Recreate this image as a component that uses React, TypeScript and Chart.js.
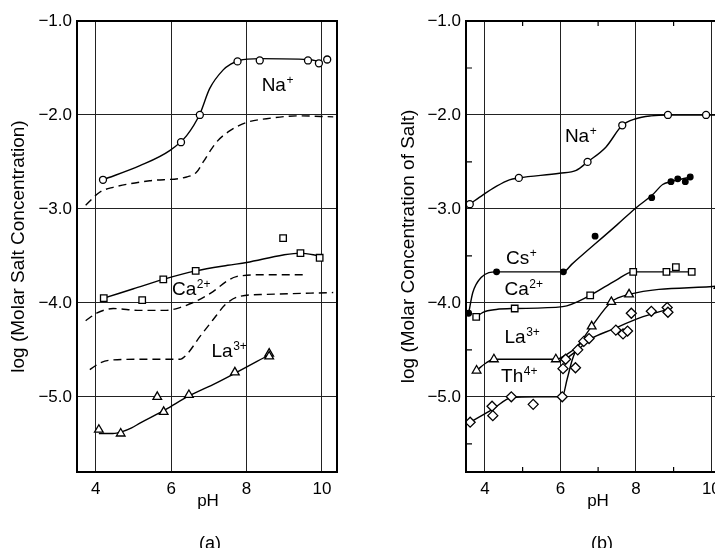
import React, { useEffect, useRef } from "react";
import { Chart, registerables } from "chart.js";

Chart.register(...registerables);

const FONT = '"Liberation Sans", Arial, Helvetica, sans-serif';

// ---------- axes ----------
const phTicks = [4, 6, 8, 10];
const logTicks = [-1, -2, -3, -4, -5];
const phMinorTicks = [5, 7, 9];
const logMinorTicks = [-1.5, -2.5, -3.5, -4.5, -5.5];

// ---------- panel (a): measured points ----------
const aNaPH = [4.19, 6.26, 6.76, 7.76, 8.35, 9.63, 9.92, 10.14];
const aNaLog = [-2.69, -2.29, -2.0, -1.43, -1.42, -1.42, -1.45, -1.41];
const aCaPH = [4.21, 5.23, 5.79, 6.65, 8.97, 9.43, 9.94];
const aCaLog = [-3.95, -3.97, -3.75, -3.66, -3.31, -3.47, -3.52];
const aLaPH = [4.08, 4.66, 5.63, 5.8, 6.47, 7.69, 8.6, 8.6];
const aLaLog = [-5.35, -5.39, -5.0, -5.16, -4.98, -4.74, -4.54, -4.57];

// ---------- panel (a): curves ----------
const aNaCurvePH = [4.19, 5.17, 5.96, 6.41, 6.76, 7.02, 7.38, 7.58, 7.8, 8.35, 9.63, 9.92];
const aNaCurveLog = [-2.69, -2.54, -2.38, -2.22, -1.99, -1.72, -1.52, -1.46, -1.42, -1.4, -1.41, -1.43];
const aNaDashPH = [3.73, 4.11, 4.46, 5.43, 6.41, 6.67, 6.85, 7.2, 7.55, 8.0, 8.53, 9.4, 10.3];
const aNaDashLog = [-2.96, -2.82, -2.77, -2.7, -2.66, -2.61, -2.5, -2.29, -2.17, -2.08, -2.04, -2.01, -2.02];
const aCaCurvePH = [4.21, 5.0, 5.79, 6.65, 7.5, 8.0, 8.97, 9.43, 9.94];
const aCaCurveLog = [-3.95, -3.85, -3.75, -3.66, -3.6, -3.57, -3.49, -3.47, -3.5];
const aCaDashPH = [3.73, 4.02, 4.46, 5.17, 5.87, 6.23, 6.67, 7.11, 7.47, 7.73, 8.5, 9.5];
const aCaDashLog = [-4.19, -4.11, -4.06, -4.08, -4.08, -4.05, -3.98, -3.88, -3.77, -3.72, -3.7, -3.7];
const aLaDashPH = [3.84, 4.11, 4.37, 5.3, 6.23, 6.41, 6.76, 7.11, 7.46, 7.82, 8.53, 10.3];
const aLaDashLog = [-4.71, -4.64, -4.61, -4.6, -4.6, -4.55, -4.36, -4.18, -4.01, -3.93, -3.91, -3.89];
const aLaCurvePH = [4.08, 4.45, 4.7, 4.95, 5.17, 5.87, 6.47, 7.11, 7.69, 8.57];
const aLaCurveLog = [-5.39, -5.39, -5.37, -5.33, -5.28, -5.13, -4.99, -4.87, -4.75, -4.56];

// ---------- panel (b): measured points ----------
const bNaPH = [3.6, 4.9, 6.72, 7.64, 8.85, 9.86];
const bNaLog = [-2.95, -2.67, -2.5, -2.11, -2.0, -2.0];
const bCsPH = [3.57, 4.31, 6.08, 6.92, 8.42, 8.93, 9.11, 9.31, 9.44];
const bCsLog = [-4.11, -3.67, -3.67, -3.29, -2.88, -2.71, -2.68, -2.71, -2.66];
const bCaPH = [3.77, 4.79, 6.79, 7.93, 8.81, 9.06, 9.48];
const bCaLog = [-4.15, -4.06, -3.92, -3.67, -3.67, -3.62, -3.67];
const bLaPH = [3.78, 4.24, 5.88, 6.83, 7.35, 7.82, 10.19];
const bLaLog = [-4.72, -4.6, -4.6, -4.25, -3.99, -3.91, -3.82];
const bThPH = [3.61, 4.19, 4.21, 4.7, 5.28, 6.05, 6.07, 6.14, 6.4, 6.46, 6.62, 6.76, 7.47, 7.66, 7.78, 7.88, 8.41, 8.83, 8.85];
const bThLog = [-5.27, -5.1, -5.2, -5.0, -5.08, -5.0, -4.7, -4.6, -4.69, -4.5, -4.41, -4.38, -4.29, -4.33, -4.3, -4.11, -4.09, -4.05, -4.1];

// ---------- panel (b): curves ----------
const bNaCurvePH = [3.6, 3.95, 4.3, 4.65, 4.9, 5.98, 6.42, 6.72, 7.21, 7.64, 8.0, 8.4, 8.85, 9.86, 10.6];
const bNaCurveLog = [-2.95, -2.85, -2.76, -2.69, -2.67, -2.62, -2.59, -2.5, -2.34, -2.11, -2.04, -2.01, -2.0, -2.0, -2.0];
const bCsCurvePH = [3.57, 3.68, 3.9, 4.31, 6.08, 6.3, 7.5, 8.0, 8.44, 8.71, 8.93, 9.44];
const bCsCurveLog = [-4.11, -3.89, -3.73, -3.67, -3.67, -3.59, -3.17, -2.99, -2.85, -2.74, -2.71, -2.66];
const bCaCurvePH = [3.77, 3.95, 4.3, 4.79, 6.06, 6.79, 7.47, 7.93, 8.81, 9.48];
const bCaCurveLog = [-4.15, -4.1, -4.07, -4.06, -4.04, -3.92, -3.76, -3.67, -3.67, -3.67];
const bLaCurvePH = [3.78, 4.03, 4.24, 5.88, 6.16, 6.43, 6.83, 7.35, 7.82, 10.19];
const bLaCurveLog = [-4.72, -4.64, -4.6, -4.6, -4.55, -4.47, -4.25, -3.99, -3.91, -3.82];
const bThCurve1PH = [3.61, 4.21, 4.7, 5.36, 6.05, 6.18, 6.32, 6.47, 6.62];
const bThCurve1Log = [-5.27, -5.13, -5.01, -5.0, -5.0, -4.81, -4.6, -4.46, -4.41];
const bThCurve2PH = [6.14, 6.46, 6.78, 7.39, 8.1, 8.83];
const bThCurve2Log = [-4.6, -4.5, -4.39, -4.28, -4.16, -4.07];

// ---------- series labels ----------
const aLabels = [
  { base: "Na", sup: "+", ph: 8.4, log: -1.69 },
  { base: "Ca", sup: "2+", ph: 6.02, log: -3.86 },
  { base: "La", sup: "3+", ph: 7.07, log: -4.52 },
];
const bLabels = [
  { base: "Na", sup: "+", ph: 6.12, log: -2.23 },
  { base: "Cs", sup: "+", ph: 4.56, log: -3.53 },
  { base: "Ca", sup: "2+", ph: 4.52, log: -3.86 },
  { base: "La", sup: "3+", ph: 4.52, log: -4.37 },
  { base: "Th", sup: "4+", ph: 4.43, log: -4.79 },
];

const pts = (xs: number[], ys: number[]) => xs.map((x, i) => ({ x, y: ys[i] }));

const curve = (xs: number[], ys: number[], dashed = false) => ({
  data: pts(xs, ys),
  showLine: true,
  pointRadius: 0,
  borderColor: "#000",
  borderWidth: 1.4,
  borderDash: dashed ? [8, 5] : [],
  cubicInterpolationMode: "monotone",
  order: 2,
});

const markers = (xs: number[], ys: number[], style: string, radius: number, filled = false) => ({
  data: pts(xs, ys),
  showLine: false,
  pointStyle: style,
  pointRadius: radius,
  pointBorderWidth: 1.3,
  pointBorderColor: "#000",
  pointBackgroundColor: filled ? "#000" : "#fff",
  order: 1,
});

const aDatasets = [
  markers(aNaPH, aNaLog, "circle", 3.5),
  markers(aCaPH, aCaLog, "rect", 4.6),
  markers(aLaPH, aLaLog, "triangle", 5),
  curve(aNaCurvePH, aNaCurveLog),
  curve(aNaDashPH, aNaDashLog, true),
  curve(aCaCurvePH, aCaCurveLog),
  curve(aCaDashPH, aCaDashLog, true),
  curve(aLaDashPH, aLaDashLog, true),
  curve(aLaCurvePH, aLaCurveLog),
];

const bDatasets = [
  markers(bNaPH, bNaLog, "circle", 3.5),
  markers(bCsPH, bCsLog, "circle", 2.8, true),
  markers(bCaPH, bCaLog, "rect", 4.6),
  markers(bLaPH, bLaLog, "triangle", 5),
  markers(bThPH, bThLog, "rectRot", 5),
  curve(bNaCurvePH, bNaCurveLog),
  curve(bCsCurvePH, bCsCurveLog),
  curve(bCaCurvePH, bCaCurveLog),
  curve(bLaCurvePH, bLaCurveLog),
  curve(bThCurve1PH, bThCurve1Log),
  curve(bThCurve2PH, bThCurve2Log),
];

type PanelCfg = {
  width: number;
  axisWidth: number;
  padRight: number;
  xMax: number;
  datasets: any[];
  labels: { base: string; sup: string; ph: number; log: number }[];
  minor: boolean;
  yTitle: string;
  yTitleX: number;
  xTitleX: number;
  caption: string;
  captionX: number;
};

function decorPlugin(cfg: PanelCfg) {
  return {
    id: "decor",
    afterDraw(chart: any) {
      const { ctx, chartArea: ca, scales } = chart;
      const xs = scales.x;
      const ys = scales.y;
      ctx.save();
      ctx.strokeStyle = "#000";
      ctx.lineWidth = 2;
      ctx.strokeRect(ca.left, ca.top, ca.right - ca.left, ca.bottom - ca.top);
      if (cfg.minor) {
        ctx.lineWidth = 1.2;
        ctx.beginPath();
        for (const v of phMinorTicks) {
          const px = xs.getPixelForValue(v);
          ctx.moveTo(px, ca.top);
          ctx.lineTo(px, ca.top + 5);
          ctx.moveTo(px, ca.bottom);
          ctx.lineTo(px, ca.bottom - 5);
        }
        for (const v of logMinorTicks) {
          const py = ys.getPixelForValue(v);
          ctx.moveTo(ca.left, py);
          ctx.lineTo(ca.left + 6, py);
        }
        ctx.stroke();
      }
      ctx.fillStyle = "#000";
      ctx.textBaseline = "middle";
      ctx.textAlign = "left";
      for (const lab of cfg.labels) {
        const x = xs.getPixelForValue(lab.ph);
        const y = ys.getPixelForValue(lab.log);
        ctx.font = `19px ${FONT}`;
        ctx.fillText(lab.base, x, y);
        const w = ctx.measureText(lab.base).width;
        ctx.font = `12px ${FONT}`;
        ctx.fillText(lab.sup, x + w + 0.5, y - 5);
      }
      // axis titles
      ctx.textAlign = "center";
      ctx.font = `19px ${FONT}`;
      ctx.save();
      ctx.translate(cfg.yTitleX, (ca.top + ca.bottom) / 2);
      ctx.rotate(-Math.PI / 2);
      ctx.fillText(cfg.yTitle, 0, 0);
      ctx.restore();
      ctx.font = `17px ${FONT}`;
      ctx.fillText("pH", cfg.xTitleX, 501);
      ctx.font = `18px ${FONT}`;
      ctx.fillText(cfg.caption, cfg.captionX, 544);
      ctx.restore();
    },
  };
}

function Panel({ cfg, left }: { cfg: PanelCfg; left: number }) {
  const ref = useRef<HTMLCanvasElement>(null);
  useEffect(() => {
    if (!ref.current) return;
    const chart = new Chart(ref.current, {
      type: "scatter",
      data: { datasets: cfg.datasets },
      options: {
        animation: false,
        responsive: false,
        maintainAspectRatio: false,
        devicePixelRatio: 1,
        layout: { padding: { top: 21, right: cfg.padRight, bottom: 0, left: 0 } },
        plugins: { legend: { display: false }, tooltip: { enabled: false } },
        scales: {
          x: {
            type: "linear",
            min: 3.5,
            max: cfg.xMax,
            afterBuildTicks: (s: any) => {
              s.ticks = phTicks.map((v) => ({ value: v }));
            },
            afterFit: (s: any) => {
              s.height = 84;
            },
            grid: { color: "#222", lineWidth: 1, drawTicks: false },
            border: { display: true, color: "#000", width: 2 },
            ticks: {
              autoSkip: false,
              maxRotation: 0,
              padding: 7,
              color: "#000",
              font: { family: FONT, size: 17 },
              callback: (v: any) => String(v),
            },
          },
          y: {
            type: "linear",
            min: -5.8,
            max: -1,
            afterBuildTicks: (s: any) => {
              s.ticks = logTicks.map((v) => ({ value: v }));
            },
            afterFit: (s: any) => {
              s.width = cfg.axisWidth;
            },
            grid: { color: "#222", lineWidth: 1, drawTicks: false },
            border: { display: true, color: "#000", width: 2 },
            ticks: {
              autoSkip: false,
              padding: 5,
              color: "#000",
              font: { family: FONT, size: 17 },
              callback: (v: any) => "\u2212" + Math.abs(Number(v)).toFixed(1),
            },
          },
        },
      } as any,
      plugins: [decorPlugin(cfg)],
    });
    return () => chart.destroy();
  }, [cfg]);
  return (
    <canvas
      ref={ref}
      width={cfg.width}
      height={556}
      style={{ position: "absolute", left, top: 0, width: cfg.width, height: 556, display: "block" }}
    />
  );
}

const panelA: PanelCfg = {
  width: 362,
  axisWidth: 77,
  padRight: 25,
  xMax: 10.4,
  datasets: aDatasets,
  labels: aLabels,
  minor: false,
  yTitle: "log (Molar Salt Concentration)",
  yTitleX: 19,
  xTitleX: 208,
  caption: "(a)",
  captionX: 210,
};

const panelB: PanelCfg = {
  width: 400,
  axisWidth: 104,
  padRight: 28,
  xMax: 10.6,
  datasets: bDatasets,
  labels: bLabels,
  minor: true,
  yTitle: "log (Molar Concentration of Salt)",
  yTitleX: 47,
  xTitleX: 236,
  caption: "(b)",
  captionX: 240,
};

export default function App() {
  return (
    <div
      style={{
        position: "relative",
        width: 723,
        height: 556,
        margin: -8,
        overflow: "hidden",
        background: "#fff",
      }}
    >
      <Panel cfg={panelA} left={0} />
      <Panel cfg={panelB} left={362} />
    </div>
  );
}
